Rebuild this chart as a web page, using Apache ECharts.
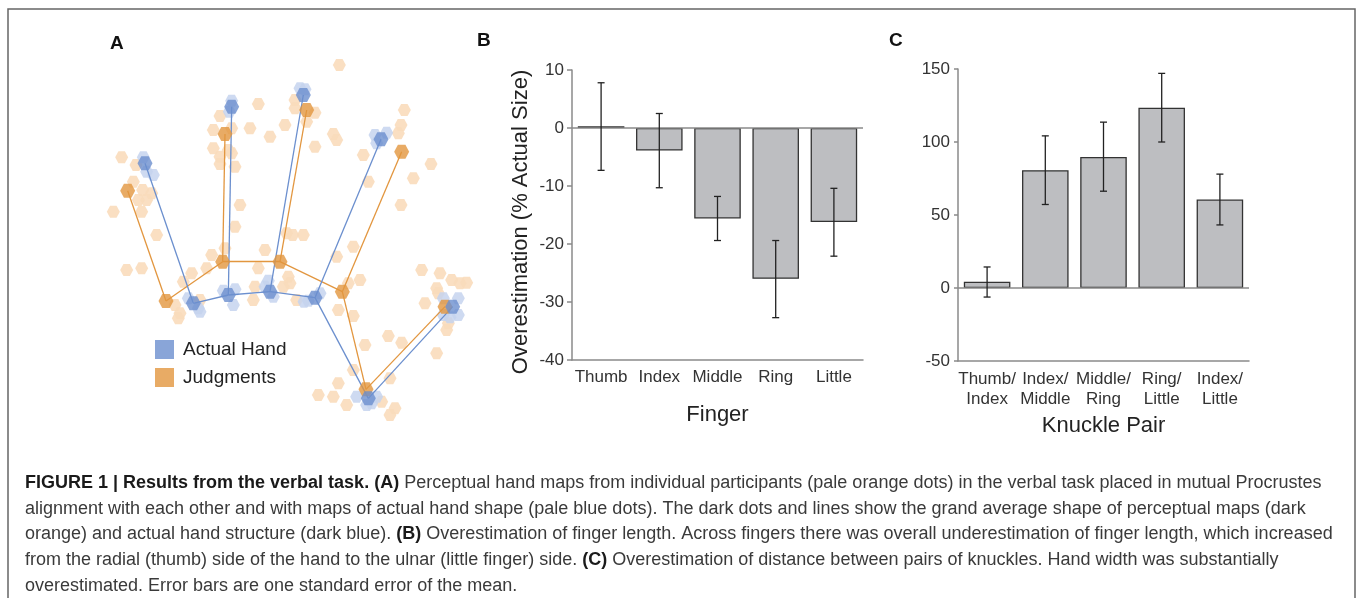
<!DOCTYPE html>
<html>
<head>
<meta charset="utf-8">
<script src="https://cdn.jsdelivr.net/npm/echarts@6/dist/echarts.min.js"></script>
<style>
  html, body { margin: 0; padding: 0; background: #fff; }
  #viz { width: 1357px; height: 598px; }
</style>
</head>
<body>
<div id="viz"></div>
<script>
const FONT = '"Liberation Sans", Arial, Helvetica, sans-serif'

// panel A: hand maps (arbitrary units, y up)
// points: thumb tip, thumb knuckle, index knuckle, index tip, middle knuckle,
// middle tip, ring knuckle, ring tip, wrist, wrist outer
const actualMean = [
  [13.5, 77.0], [28.0, 35.0], [38.5, 37.5], [39.5, 94.0], [51.0, 38.5],
  [61.0, 97.5], [64.5, 36.7], [84.3, 84.2], [80.5, 6.5], [105.8, 34.0],
]
const judgedMean = [
  [8.3, 68.8], [19.8, 35.7], [36.8, 47.5], [37.5, 85.8], [54.0, 47.5],
  [62.0, 93.0], [72.7, 38.5], [90.5, 80.5], [79.8, 9.2], [103.5, 34.0],
]
const handEdges = [[0, 1], [1, 2], [2, 3], [2, 4], [4, 5], [4, 6], [6, 7], [6, 8], [8, 9]]

const judgedDots = [
  [71.8, 106.5], [47.5, 94.8], [36.0, 91.2], [58.5, 96.0], [58.5, 93.5], [64.5, 92.2],
  [62.0, 89.5], [55.5, 88.5], [45.0, 87.5], [34.0, 87.0], [51.0, 85.0], [39.5, 87.5],
  [70.0, 85.8], [71.0, 84.0], [91.3, 93.0], [90.3, 88.5], [89.5, 86.0], [64.5, 82.0],
  [34.0, 81.5], [38.5, 81.0], [36.0, 79.0], [39.5, 80.0], [36.0, 76.8], [40.5, 76.0],
  [79.0, 79.5], [99.3, 76.8], [94.0, 72.5], [80.5, 71.5], [6.5, 78.8], [10.8, 76.5],
  [10.0, 71.5], [12.8, 69.0], [11.5, 66.0], [14.0, 66.0], [15.5, 68.0], [4.0, 62.5],
  [12.5, 62.5], [90.3, 64.5], [42.0, 64.5], [40.5, 58.0], [17.0, 55.5], [56.0, 56.0],
  [61.0, 55.5], [57.8, 55.5], [76.0, 52.0], [49.5, 51.0], [33.5, 49.5], [37.5, 51.5],
  [71.0, 49.0], [8.0, 45.0], [12.5, 45.5], [25.0, 41.5], [27.5, 44.0], [32.0, 45.5],
  [47.5, 45.5], [56.5, 43.0], [57.0, 41.0], [78.0, 42.0], [74.5, 41.0], [46.5, 40.0],
  [55.0, 40.0], [96.5, 45.0], [102.0, 44.0], [105.5, 42.0], [108.0, 41.0], [110.0, 41.2],
  [101.0, 39.5], [101.5, 38.0], [97.5, 35.0], [30.0, 36.0], [22.5, 34.5], [24.0, 32.0],
  [23.5, 30.5], [46.0, 36.0], [59.0, 36.0], [71.5, 33.0], [76.0, 31.2], [104.5, 29.0],
  [104.0, 27.0], [86.5, 25.2], [90.5, 23.2], [79.5, 22.5], [101.0, 20.0], [76.0, 15.0],
  [87.0, 12.5], [71.5, 11.0], [65.5, 7.5], [70.0, 7.0], [74.0, 4.5], [84.5, 5.5],
  [88.5, 3.5], [87.0, 1.5],
]
const actualDots = [
  [14.0, 74.5], [16.0, 73.5], [13.0, 78.8], [39.5, 95.8], [38.8, 92.5], [60.0, 99.5],
  [61.5, 99.2], [82.5, 85.5], [86.0, 86.2], [83.0, 83.0], [29.5, 33.5], [26.5, 36.5],
  [30.0, 32.5], [40.0, 34.5], [37.0, 38.8], [40.5, 39.2], [50.5, 41.8], [52.0, 37.0],
  [49.5, 40.0], [62.5, 35.8], [66.0, 38.0], [61.2, 35.5], [77.0, 7.0], [83.0, 7.0],
  [80.0, 4.5], [81.5, 5.0], [103.0, 36.5], [107.5, 36.5], [103.0, 31.5], [107.5, 31.5],
  [105.0, 30.8],
]

// panel B
const fingers = ['Thumb', 'Index', 'Middle', 'Ring', 'Little']
const fingerMean = [0.3, -3.9, -15.6, -26.0, -16.2]
const fingerLow = [-7.3, -10.3, -19.4, -32.7, -22.1]
const fingerHigh = [7.8, 2.5, -11.8, -19.4, -10.4]

// panel C
const knucklePairs = ['Thumb/\nIndex', 'Index/\nMiddle', 'Middle/\nRing', 'Ring/\nLittle', 'Index/\nLittle']
const knuckleMean = [4.3, 80.7, 89.8, 123.5, 60.6]
const knuckleLow = [-6.2, 57.2, 66.3, 100.0, 43.2]
const knuckleHigh = [14.4, 104.2, 113.6, 147.0, 78.0]

const BLUE = '#6b8fce'
const ORANGE = '#e2963f'
const HEX = 'path://M-1,0 L-0.5,-0.866 L0.5,-0.866 L1,0 L0.5,0.866 L-0.5,0.866 Z'

const edgeData = (pts) => handEdges.map(([a, b]) => ({ coords: [pts[a], pts[b]] }))

const errRender = (params, api) => {
  const x = api.value(0)
  const lo = api.coord([x, api.value(1)])
  const hi = api.coord([x, api.value(2)])
  const w = 3.5
  const style = { stroke: '#222', lineWidth: 1.3 }
  return {
    type: 'group',
    children: [
      { type: 'line', shape: { x1: lo[0], y1: lo[1], x2: hi[0], y2: hi[1] }, style },
      { type: 'line', shape: { x1: lo[0] - w, y1: lo[1], x2: lo[0] + w, y2: lo[1] }, style },
      { type: 'line', shape: { x1: hi[0] - w, y1: hi[1], x2: hi[0] + w, y2: hi[1] }, style },
    ],
  }
}

const axisGray = { color: '#8a8a8a', width: 1.5 }
const tickLabel = { fontSize: 17, color: '#333', fontFamily: FONT }
const nameStyle = { fontSize: 22, color: '#222', fontFamily: FONT }

const barSeries = (idx, values) => ({
  type: 'bar',
  xAxisIndex: idx,
  yAxisIndex: idx,
  data: values,
  barWidth: '80%',
  itemStyle: { color: '#bdbec1', borderColor: '#333', borderWidth: 1.3 },
  markLine: {
    silent: true,
    symbol: 'none',
    label: { show: false },
    lineStyle: { color: '#8a8a8a', width: 1.5, type: 'solid' },
    data: [{ yAxis: 0 }],
  },
})

const errSeries = (idx, low, high) => ({
  type: 'custom',
  xAxisIndex: idx,
  yAxisIndex: idx,
  renderItem: errRender,
  encode: { x: 0, y: [1, 2] },
  data: low.map((l, i) => [i, l, high[i]]),
  z: 5,
})

const caption =
  '{b|FIGURE 1 | Results from the verbal task. (A)} Perceptual hand maps from individual participants (pale orange dots) in the verbal task placed in mutual Procrustes\n' +
  'alignment with each other and with maps of actual hand shape (pale blue dots). The dark dots and lines show the grand average shape of perceptual maps (dark\n' +
  'orange) and actual hand structure (dark blue). {b|(B)} Overestimation of finger length. Across fingers there was overall underestimation of finger length, which increased\n' +
  'from the radial (thumb) side of the hand to the ulnar (little finger) side. {b|(C)} Overestimation of distance between pairs of knuckles. Hand width was substantially\n' +
  'overestimated. Error bars are one standard error of the mean.'

const chart = echarts.init(document.getElementById('viz'))

chart.setOption({
  animation: false,
  textStyle: { fontFamily: FONT },
  grid: [
    { left: 100, top: 40, width: 380, height: 380 },
    { left: 572, top: 70, width: 291, height: 290 },
    { left: 958, top: 69, width: 291, height: 292 },
  ],
  xAxis: [
    { gridIndex: 0, type: 'value', min: 0, max: 114, show: false },
    {
      gridIndex: 1,
      type: 'category',
      data: fingers,
      axisLine: { onZero: false, lineStyle: axisGray },
      axisTick: { alignWithLabel: true, length: 5, lineStyle: axisGray },
      axisLabel: { ...tickLabel, margin: 9, interval: 0 },
      name: 'Finger',
      nameLocation: 'middle',
      nameGap: 44,
      nameTextStyle: nameStyle,
    },
    {
      gridIndex: 2,
      type: 'category',
      data: knucklePairs,
      axisLine: { onZero: false, lineStyle: axisGray },
      axisTick: { alignWithLabel: true, length: 5, lineStyle: axisGray },
      axisLabel: { ...tickLabel, margin: 8, lineHeight: 20, interval: 0 },
      name: 'Knuckle Pair',
      nameLocation: 'middle',
      nameGap: 54,
      nameTextStyle: nameStyle,
    },
  ],
  yAxis: [
    { gridIndex: 0, type: 'value', min: 0, max: 114, show: false },
    {
      gridIndex: 1,
      type: 'value',
      min: -40,
      max: 10,
      interval: 10,
      axisLine: { show: true, lineStyle: axisGray },
      axisTick: { show: true, length: 5, lineStyle: axisGray },
      splitLine: { show: false },
      axisLabel: { ...tickLabel, margin: 8 },
      name: 'Overestimation (% Actual Size)',
      nameLocation: 'middle',
      nameGap: 40,
      nameTextStyle: { ...nameStyle, padding: [0, 14, 0, 0] },
    },
    {
      gridIndex: 2,
      type: 'value',
      min: -50,
      max: 150,
      interval: 50,
      axisLine: { show: true, lineStyle: axisGray },
      axisTick: { show: true, length: 4, lineStyle: axisGray },
      splitLine: { show: false },
      axisLabel: { ...tickLabel, margin: 8 },
    },
  ],
  legend: {
    left: 155,
    top: 340,
    padding: 0,
    orient: 'vertical',
    icon: 'rect',
    itemWidth: 19,
    itemHeight: 19,
    itemGap: 9,
    selectedMode: false,
    data: ['Actual Hand', 'Judgments'],
    textStyle: { fontSize: 19, color: '#222', fontFamily: FONT, padding: [0, 0, 0, 4] },
  },
  graphic: [
    {
      type: 'rect',
      shape: { x: 8, y: 9, width: 1347, height: 640 },
      style: { fill: 'none', stroke: '#666', lineWidth: 1.5 },
      silent: true,
    },
    { type: 'text', left: 110, top: 34, style: { text: 'A', font: 'bold 19px ' + FONT, fill: '#111' } },
    { type: 'text', left: 477, top: 31, style: { text: 'B', font: 'bold 19px ' + FONT, fill: '#111' } },
    { type: 'text', left: 889, top: 31, style: { text: 'C', font: 'bold 19px ' + FONT, fill: '#111' } },
    {
      type: 'text',
      left: 25,
      top: 470,
      style: {
        text: caption,
        font: '18px ' + FONT,
        fill: '#3a3a3a',
        lineHeight: 25.7,
        rich: { b: { fontWeight: 'bold', fill: '#1a1a1a', fontSize: 18, fontFamily: FONT } },
      },
    },
  ],
  series: [
    {
      type: 'scatter',
      xAxisIndex: 0,
      yAxisIndex: 0,
      symbol: HEX,
      symbolSize: [13, 12],
      itemStyle: { color: '#f9dbbb', opacity: 0.9 },
      data: judgedDots,
      z: 1,
    },
    {
      type: 'scatter',
      xAxisIndex: 0,
      yAxisIndex: 0,
      symbol: HEX,
      symbolSize: [13, 12],
      itemStyle: { color: '#c6d3ee', opacity: 0.85 },
      data: actualDots,
      z: 2,
    },
    {
      type: 'lines',
      coordinateSystem: 'cartesian2d',
      xAxisIndex: 0,
      yAxisIndex: 0,
      lineStyle: { color: ORANGE, width: 1.3, opacity: 1 },
      data: edgeData(judgedMean),
      z: 3,
    },
    {
      type: 'lines',
      coordinateSystem: 'cartesian2d',
      xAxisIndex: 0,
      yAxisIndex: 0,
      lineStyle: { color: BLUE, width: 1.3, opacity: 1 },
      data: edgeData(actualMean),
      z: 3,
    },
    {
      name: 'Judgments',
      type: 'scatter',
      xAxisIndex: 0,
      yAxisIndex: 0,
      symbol: HEX,
      symbolSize: [15, 14],
      itemStyle: { color: ORANGE },
      data: judgedMean,
      z: 4,
    },
    {
      name: 'Actual Hand',
      type: 'scatter',
      xAxisIndex: 0,
      yAxisIndex: 0,
      symbol: HEX,
      symbolSize: [15, 14],
      itemStyle: { color: BLUE },
      data: actualMean,
      z: 4,
    },
    barSeries(1, fingerMean),
    errSeries(1, fingerLow, fingerHigh),
    barSeries(2, knuckleMean),
    errSeries(2, knuckleLow, knuckleHigh),
  ],
})
</script>
</body>
</html>
